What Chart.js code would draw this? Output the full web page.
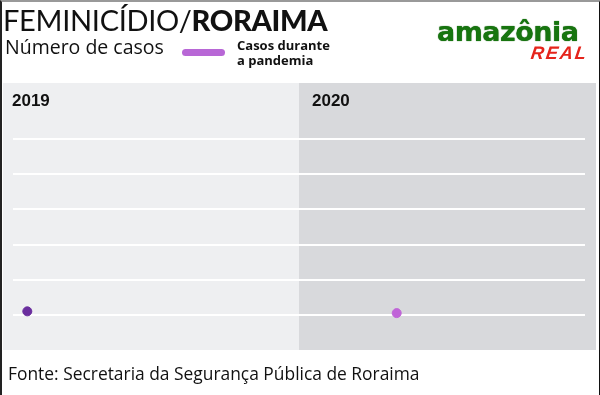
<!DOCTYPE html>
<html>
<head>
<meta charset="utf-8">
<script src="https://cdn.jsdelivr.net/npm/chart.js@4/dist/chart.umd.min.js"></script>
<style>
  html, body { margin: 0; padding: 0; background: #fff; }
  #wrap { position: relative; width: 600px; height: 395px; overflow: hidden; }
  #wrap canvas { position: absolute; left: 0; top: 0; }
  .frame { position: absolute; left: 0; top: 0; width: 597px; height: 400px;
    border-left: 2px solid #222; border-top: 2px solid #999; border-right: 2px solid #111; }
  .title { position: absolute; left: 3px; top: 2px; font-family: Lato, sans-serif; font-size: 29px;
    color: #111; white-space: nowrap; font-weight: 400; letter-spacing: -0.3px; }
  .title b { font-weight: 900; }
  .sub { position: absolute; left: 5px; top: 33px; font-family: "Open Sans", sans-serif; font-size: 19.5px; color: #111; }
  .legline { position: absolute; left: 182px; top: 49px; width: 43px; height: 7px; border-radius: 4px; background: #b867d6; }
  .legtxt { position: absolute; left: 237px; top: 38px; font-family: "Open Sans", sans-serif; font-weight: 700;
    font-size: 13px; line-height: 15px; color: #111; }
  .logo { position: absolute; left: 437px; top: 16px; font-family: "DejaVu Sans", sans-serif; font-weight: 700;
    font-size: 27px; color: #17750f; letter-spacing: -0.5px; text-shadow: 0 0 1px #0b5206; }
  .real { position: absolute; left: 531px; top: 43px; font-family: "Liberation Sans", sans-serif; font-style: italic;
    font-weight: 700; font-size: 18px; color: #e5241b; letter-spacing: 2px; transform: skewX(-8deg); }
  .fonte { position: absolute; left: 8px; top: 361px; font-family: "Open Sans", sans-serif; font-size: 17.4px; color: #111; }
</style>
</head>
<body>
<div id="wrap">
  <canvas id="chart" width="600" height="395"></canvas>
  <div class="title">FEMINICÍDIO/<b>RORAIMA</b></div>
  <div class="sub">Número de casos</div>
  <div class="legline"></div>
  <div class="legtxt">Casos durante<br>a pandemia</div>
  <div class="logo">amazônia</div>
  <div class="real">REAL</div>
  <div class="fonte">Fonte: Secretaria da Segurança Pública de Roraima</div>
  <div class="frame"></div>
</div>
<script>
// months counted from Jan 2019 (0) to Dec 2020 (24)
var years = ["2019", "2020"];
var yearStart = [0, 12];
var months2019 = [0.6];
var cases2019 = [1.1];
var monthsPandemic = [16.1];
var casesPandemic = [1.05];

var panelsPlugin = {
  id: "panels",
  beforeDraw: function (chart) {
    var ctx = chart.ctx;
    var x = chart.scales.x;
    var area = chart.chartArea;
    var split = x.getPixelForValue(yearStart[1]);
    ctx.save();
    ctx.fillStyle = "#eeeff1";
    ctx.fillRect(3, area.top, split - 3, area.bottom - area.top);
    ctx.fillStyle = "#d8d9dc";
    ctx.fillRect(split, area.top, 596 - split, area.bottom - area.top);
    ctx.fillStyle = "#111";
    ctx.font = "bold 17px 'Liberation Sans', sans-serif";
    ctx.textBaseline = "alphabetic";
    ctx.fillText(years[0], x.getPixelForValue(yearStart[0]) - 1, area.top + 23);
    ctx.fillText(years[1], split + 13, area.top + 23);
    ctx.restore();
  },
};

var ctx = document.getElementById("chart").getContext("2d");
var chart = new Chart(ctx, {
  type: "scatter",
  data: {
    datasets: [
      {
        label: "2019",
        data: months2019.map(function (m, i) { return { x: m, y: cases2019[i] }; }),
        backgroundColor: "#6a2e9e",
        borderColor: "#6a2e9e",
        pointRadius: 4.5,
        showLine: false,
      },
      {
        label: "Casos durante a pandemia",
        data: monthsPandemic.map(function (m, i) { return { x: m, y: casesPandemic[i] }; }),
        backgroundColor: "#c064d8",
        borderColor: "#c064d8",
        pointRadius: 4.5,
        showLine: false,
      },
    ],
  },
  options: {
    responsive: false,
    animation: false,
    layout: { padding: { left: 13, right: 15, top: 83, bottom: 45 } },
    plugins: { legend: { display: false }, tooltip: { enabled: false } },
    scales: {
      x: {
        type: "linear",
        min: 0,
        max: 24,
        ticks: { display: false },
        grid: { display: false, drawTicks: false },
        border: { display: false },
      },
      y: {
        min: 0,
        max: 7.6,
        ticks: { display: false, stepSize: 1 },
        grid: {
          drawTicks: false,
          lineWidth: 2,
          color: function (c) {
            var v = c.tick ? c.tick.value : 0;
            return v >= 1 && v <= 6 ? "#ffffff" : "rgba(0,0,0,0)";
          },
        },
        border: { display: false },
      },
    },
  },
  plugins: [panelsPlugin],
});
</script>
</body>
</html>
